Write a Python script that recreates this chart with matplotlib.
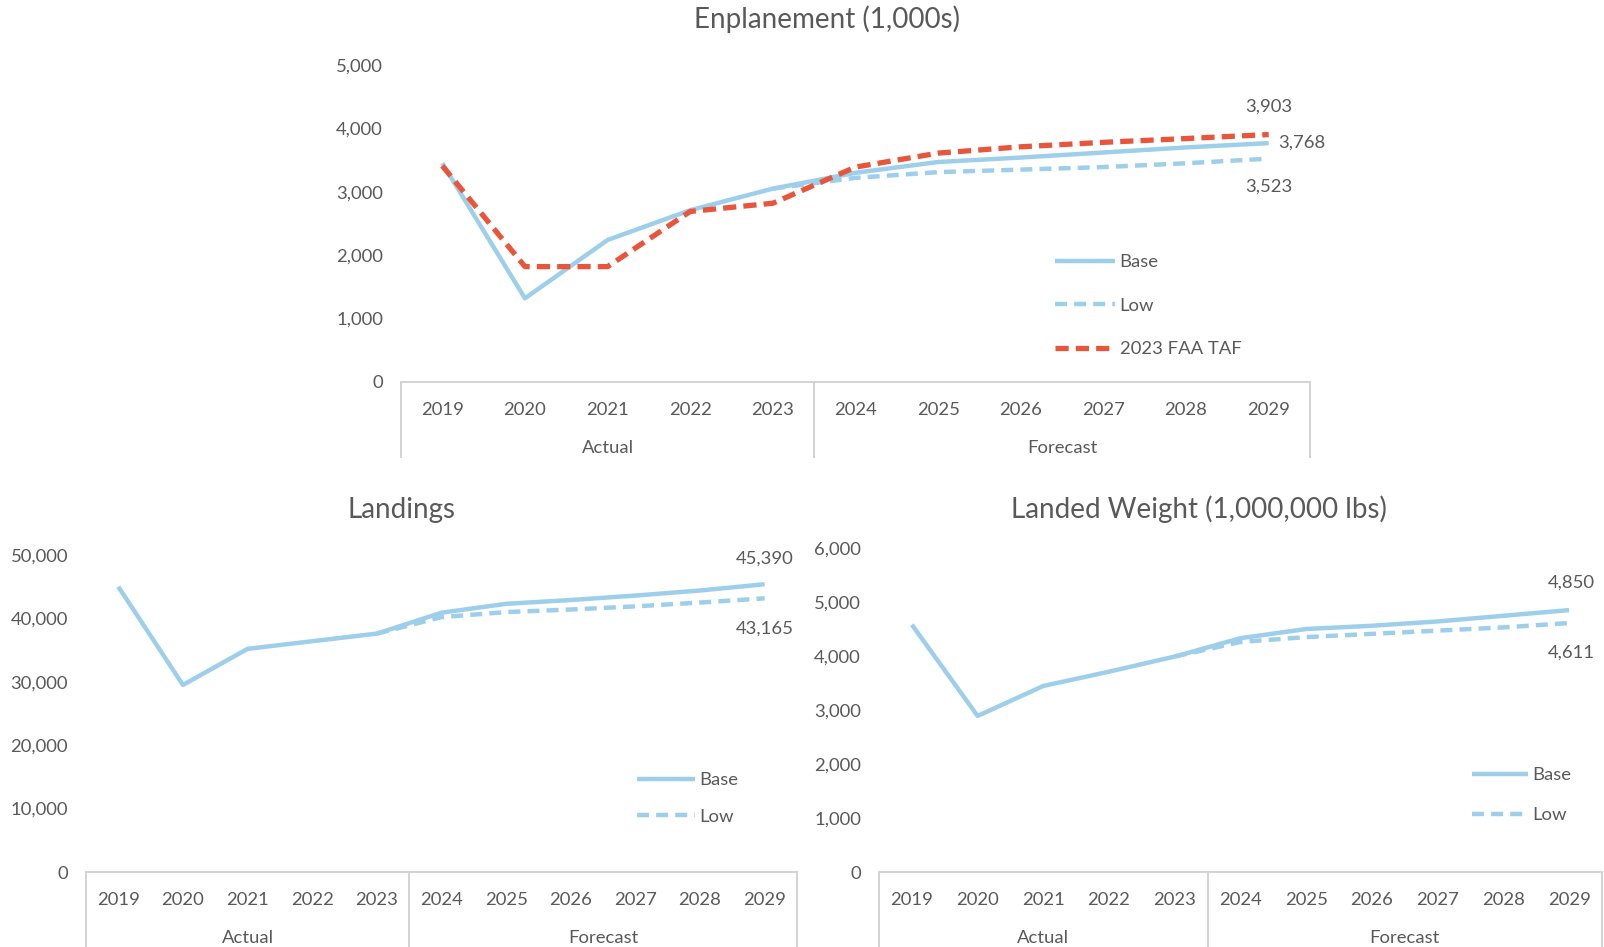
import matplotlib
matplotlib.use("Agg")
import matplotlib.pyplot as plt
from matplotlib.lines import Line2D
from matplotlib.ticker import FuncFormatter
import matplotlib.transforms as mtransforms

plt.rcParams["font.family"] = ["Lato", "DejaVu Sans"]

# ---- data -------------------------------------------------------------
years = ["2019", "2020", "2021", "2022", "2023", "2024",
         "2025", "2026", "2027", "2028", "2029"]
group_names = ["Actual", "Forecast"]
group_spans = [(0, 4), (5, 10)]

enp_base = [3450, 1320, 2240, 2710, 3050, 3300, 3470, 3540, 3620, 3700, 3768]
enp_low_years = years[4:]
enp_low = [3050, 3220, 3310, 3350, 3390, 3450, 3523]
enp_taf = [3410, 1820, 1820, 2690, 2820, 3390, 3610, 3710, 3780, 3840, 3903]

land_base = [45000, 29500, 35200, 36400, 37600, 40900, 42300, 42900, 43600, 44400, 45390]
land_low_years = years[4:]
land_low = [37600, 40200, 41000, 41400, 41900, 42500, 43165]

wt_base = [4580, 2890, 3445, 3710, 3990, 4330, 4500, 4560, 4640, 4745, 4850]
wt_low_years = years[4:]
wt_low = [3990, 4260, 4350, 4410, 4470, 4530, 4611]

# ---- style -------------------------------------------------------------
W, H = 1604, 947
TEXT = "#595959"
AXIS = "#D3D3D3"
BLUE = "#9DCFEB"
RED = "#E9553A"
FS = 13.3
TITLE_FS = 20
PX = 0.72  # points per pixel at 100 dpi

fig = plt.figure(figsize=(W / 100, H / 100), dpi=100)


def pos(labels):
    return [years.index(y) for y in labels]


def px_axes(left, right, top, bottom):
    return fig.add_axes([left / W, 1 - bottom / H, (right - left) / W, (bottom - top) / H])


def setup_axis(ax, ymax, ystep, box_bottom_px, ax_bottom_px, ax_h_px):
    ax.set_xlim(-0.5, len(years) - 0.5)
    ax.set_ylim(0, ymax)
    ax.set_yticks(list(range(0, ymax + 1, ystep)))
    ax.yaxis.set_major_formatter(FuncFormatter(lambda v, p: f"{int(v):,}"))
    ax.tick_params(axis="y", length=0, pad=18 * PX, labelsize=FS, labelcolor=TEXT)
    ax.set_xticks([])
    for sp in ax.spines.values():
        sp.set_visible(False)
    ax.patch.set_alpha(0)

    trans = mtransforms.blended_transform_factory(ax.transData, ax.transAxes)
    ybot = -(box_bottom_px - ax_bottom_px) / ax_h_px
    ax.add_line(Line2D([-0.5, len(years) - 0.5], [0, 0], transform=trans,
                       color=AXIS, lw=1.4, clip_on=False, zorder=1))
    edges = [-0.5] + [s[1] + 0.5 for s in group_spans]
    for xe in edges:
        ax.add_line(Line2D([xe, xe], [0, ybot], transform=trans,
                           color=AXIS, lw=1.4, clip_on=False, zorder=1))

    for i, yr in enumerate(years):
        ax.annotate(yr, xy=(i, 0), xycoords=trans, xytext=(0, -28 * PX),
                    textcoords="offset points", ha="center", va="center",
                    fontsize=FS, color=TEXT)
    for name, (a, b) in zip(group_names, group_spans):
        ax.annotate(name, xy=((a + b) / 2, 0), xycoords=trans, xytext=(0, -66 * PX),
                    textcoords="offset points", ha="center", va="center",
                    fontsize=FS, color=TEXT)


def end_label(ax, value, dx, dy, ha="center"):
    ax.annotate(f"{value:,}", xy=(len(years) - 1, value), xytext=(dx * PX, dy * PX),
                textcoords="offset points", ha=ha, va="center",
                fontsize=FS, color=TEXT, annotation_clip=False)


def add_legend(ax, handles, labels, x_px, y_px, handle_px, spacing):
    ax.legend(handles, labels, loc="upper left",
              bbox_to_anchor=(x_px / W, 1 - y_px / H), bbox_transform=fig.transFigure,
              frameon=False, borderpad=0, borderaxespad=0,
              handlelength=handle_px / (FS / PX), handletextpad=0.25,
              labelspacing=spacing, fontsize=FS, labelcolor=TEXT)


base_kw = dict(color=BLUE, lw=3.2, solid_joinstyle="round", solid_capstyle="butt")
low_kw = dict(color=BLUE, lw=3.2, dashes=(2.7, 1.6), dash_capstyle="butt")
taf_kw = dict(color=RED, lw=3.8, dashes=(2.5, 1.35), dash_capstyle="butt")
xs = list(range(len(years)))

# ---- Enplanement -------------------------------------------------------
ax1 = px_axes(401, 1310, 65, 382)
setup_axis(ax1, 5000, 1000, 457, 382, 382 - 65)
l_low, = ax1.plot(pos(enp_low_years), enp_low, zorder=3, **low_kw)
l_base, = ax1.plot(xs, enp_base, zorder=4, **base_kw)
l_taf, = ax1.plot(xs, enp_taf, zorder=5, **taf_kw)
end_label(ax1, enp_taf[-1], 0, 27.5)
end_label(ax1, enp_base[-1], 10, 0, ha="left")
end_label(ax1, enp_low[-1], 0, -28)
add_legend(ax1, [l_base, l_low, l_taf], ["Base", "Low", "2023 FAA TAF"],
           1055, 254, 60, 1.5)
fig.text(827 / W, 1 - 19 / H, "Enplanement (1,000s)", ha="center", va="center",
         fontsize=TITLE_FS, color=TEXT)

# ---- Landings ----------------------------------------------------------
ax2 = px_axes(86, 797, 555, 872)
setup_axis(ax2, 50000, 10000, 960, 872, 872 - 555)
m_low, = ax2.plot(pos(land_low_years), land_low, zorder=3, **low_kw)
m_base, = ax2.plot(xs, land_base, zorder=4, **base_kw)
end_label(ax2, land_base[-1], 0, 26)
end_label(ax2, land_low[-1], 0, -30)
add_legend(ax2, [m_base, m_low], ["Base", "Low"], 637, 772, 58, 1.12)
fig.text(401 / W, 1 - 510 / H, "Landings", ha="center", va="center",
         fontsize=TITLE_FS, color=TEXT)

# ---- Landed Weight -----------------------------------------------------
ax3 = px_axes(879, 1602, 548, 872)
setup_axis(ax3, 6000, 1000, 960, 872, 872 - 548)
n_low, = ax3.plot(pos(wt_low_years), wt_low, zorder=3, **low_kw)
n_base, = ax3.plot(xs, wt_base, zorder=4, **base_kw)
end_label(ax3, wt_base[-1], 2, 27)
end_label(ax3, wt_low[-1], 2, -29.5)
add_legend(ax3, [n_base, n_low], ["Base", "Low"], 1472, 767, 56, 1.32)
fig.text(1199 / W, 1 - 509 / H, "Landed Weight (1,000,000 lbs)", ha="center", va="center",
         fontsize=TITLE_FS, color=TEXT)

fig.savefig("out.png", dpi=100, facecolor="white")
